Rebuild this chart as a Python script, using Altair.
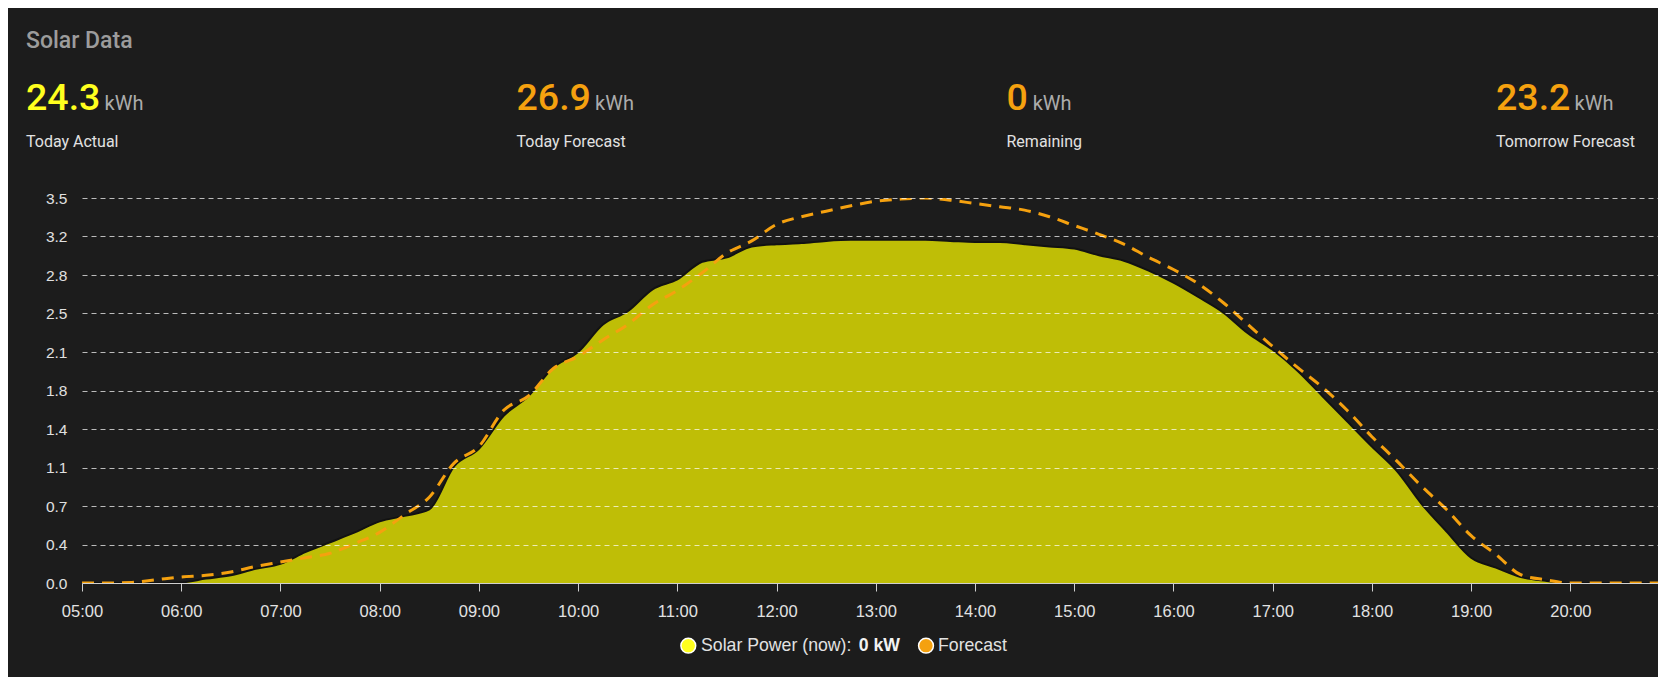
import altair as alt
import pandas as pd

# ---------------- data ----------------
TIMES = [
    "05:00", "05:15", "05:30", "05:45", "06:00", "06:15", "06:30", "06:45",
    "07:00", "07:15", "07:30", "07:45", "08:00", "08:15", "08:30", "08:45",
    "09:00", "09:15", "09:30", "09:45", "10:00", "10:15", "10:30", "10:45",
    "11:00", "11:15", "11:30", "11:45", "12:00", "12:15", "12:30", "12:45",
    "13:00", "13:15", "13:30", "13:45", "14:00", "14:15", "14:30", "14:45",
    "15:00", "15:15", "15:30", "15:45", "16:00", "16:15", "16:30", "16:45",
    "17:00", "17:15", "17:30", "17:45", "18:00", "18:15", "18:30", "18:45",
    "19:00", "19:15", "19:30", "19:45", "20:00", "20:15", "20:30", "20:45",
    "21:00",
]
ACTUAL_KW = [
    0, 0, 0, 0, 0.005, 0.04, 0.07, 0.13,
    0.175, 0.28, 0.37, 0.46, 0.56, 0.61, 0.67, 1.06,
    1.22, 1.52, 1.70, 1.96, 2.10, 2.35, 2.47, 2.67,
    2.76, 2.92, 2.96, 3.06, 3.08, 3.09, 3.11, 3.12,
    3.12, 3.12, 3.12, 3.11, 3.10, 3.10, 3.08, 3.06,
    3.04, 2.98, 2.93, 2.84, 2.73, 2.60, 2.46, 2.27,
    2.12, 1.93, 1.70, 1.47, 1.24, 1.02, 0.72, 0.47,
    0.23, 0.14, 0.055, 0.02, 0, 0, 0, 0,
    0,
]
FORECAST_KW = [
    0, 0, 0.005, 0.03, 0.055, 0.07, 0.10, 0.15,
    0.19, 0.23, 0.27, 0.36, 0.46, 0.62, 0.78, 1.09,
    1.24, 1.57, 1.70, 1.95, 2.06, 2.21, 2.35, 2.53,
    2.66, 2.82, 3.00, 3.11, 3.26, 3.33, 3.38, 3.43,
    3.47, 3.49, 3.50, 3.48, 3.45, 3.42, 3.39, 3.33,
    3.25, 3.17, 3.08, 2.96, 2.85, 2.72, 2.55, 2.35,
    2.15, 1.96, 1.78, 1.57, 1.33, 1.11, 0.88, 0.67,
    0.43, 0.26, 0.075, 0.03, 0, 0, 0, 0,
    0,
]
Y_TICKS = [0, 0.35, 0.7, 1.05, 1.4, 1.75, 2.1, 2.45, 2.8, 3.15, 3.5]
Y_LABELS = ["0.0", "0.4", "0.7", "1.1", "1.4", "1.8", "2.1", "2.5", "2.8", "3.2", "3.5"]
HOUR_TICKS = ["05:00", "06:00", "07:00", "08:00", "09:00", "10:00", "11:00", "12:00",
              "13:00", "14:00", "15:00", "16:00", "17:00", "18:00", "19:00", "20:00"]
X_START = "05:00"
X_END = "20:53"

CARD_TITLE = "Solar Data"
STAT_VALUES = ["24.3", "26.9", "0", "23.2"]
STAT_UNITS = ["kWh", "kWh", "kWh", "kWh"]
STAT_LABELS = ["Today Actual", "Today Forecast", "Remaining", "Tomorrow Forecast"]
LEGEND_NAMES = ["Solar Power (now):", "Forecast"]
LEGEND_NOW = "0 kW"

# ---------------- style ----------------
BG = "#1c1c1c"
YELLOW = "#ffff1e"
ORANGE = "#f5a10f"
AREA = "#bfbe06"
AXIS_FONT = "Liberation Sans"
HEAD_FONT = "Roboto"

PAD_L, PAD_T, PAD_B = 74, 190, 94
W, H = 1576, 385
STAT_X = [-56, 434.5, 924.5, 1414]     # relative to plot origin


def dt(hhmm):
    h, m = hhmm.split(":")
    return alt.DateTime(year=2024, month=6, date=1, hours=int(h), minutes=int(m))


DAY = "2024-06-01T"
df = pd.DataFrame({
    "time": [DAY + t for t in TIMES],
    "actual": ACTUAL_KW,
    "forecast": FORECAST_KW,
})

label_expr = "[" + ",".join(f"'{s}'" for s in Y_LABELS) + "][round(datum.value / 0.35)]"

x_axis = alt.Axis(
    values=[dt(t) for t in HOUR_TICKS], format="%H:%M", title=None, grid=False,
    domain=True, domainColor="#cfcfcf", domainWidth=1, ticks=True, tickColor="#cfcfcf",
    tickSize=8, labelPadding=12, labelFontSize=16.5, labelColor="#e2e2e2",
    labelFont=AXIS_FONT, zindex=1, labelFlush=False,
)
y_axis = alt.Axis(
    values=Y_TICKS, labelExpr=label_expr, title=None, grid=True, gridColor="#ffffff",
    gridOpacity=0.7, gridDash=[5, 4], gridWidth=1, domain=False, ticks=False,
    labelPadding=15, labelFontSize=15.5, labelColor="#e0e0e0", labelFont=AXIS_FONT,
    zindex=1,
)
x_enc = alt.X("time:T", scale=alt.Scale(domain=[dt(X_START), dt(X_END)]), axis=x_axis)
y_scale = alt.Scale(domain=[0, 3.5], nice=False, zero=True)

base = alt.Chart(df)
area = base.mark_area(color=AREA, interpolate="monotone", clip=True).encode(
    x=x_enc, y=alt.Y("actual:Q", scale=y_scale, axis=y_axis))
edge = base.mark_line(color="#121212", strokeWidth=2, interpolate="monotone", clip=True).encode(
    x=x_enc, y=alt.Y("actual:Q", scale=y_scale, axis=y_axis))
fc = base.mark_line(color=ORANGE, strokeWidth=3, strokeDash=[12, 8],
                    interpolate="monotone", clip=True).encode(
    x=x_enc, y=alt.Y("forecast:Q", scale=y_scale, axis=y_axis))

layers = [area, edge, fc]


def text_layer(txt, x, y, size, color, weight="normal", font=HEAD_FONT, baseline="alphabetic"):
    return alt.Chart(pd.DataFrame({"t": [txt]})).mark_text(
        align="left", baseline=baseline, fontSize=size, color=color,
        fontWeight=weight, font=font,
    ).encode(text="t:N", x=alt.value(x), y=alt.value(y))


layers.append(text_layer(CARD_TITLE, -56, -150, 23, "#9c9c9c", weight=500))

for i, (v, u, lab) in enumerate(zip(STAT_VALUES, STAT_UNITS, STAT_LABELS)):
    x0 = STAT_X[i]
    col = YELLOW if i == 0 else ORANGE
    num_w = sum(10 if c == "." else 21.2 for c in v)
    layers.append(text_layer(v, x0, -88, 37.5, col, weight=500))
    layers.append(text_layer(u, x0 + num_w + 5, -88, 20, "#ababab"))
    layers.append(text_layer(lab, x0, -51.5, 16, "#e2e2e2"))

# legend
LEG_Y = 447.7
LEG_FS = 17.7
leg_colors = [YELLOW, ORANGE]
leg_dot_x = [606.3, 844]
leg_txt_x = [619, 856]
for name, c, dx, tx in zip(LEGEND_NAMES, leg_colors, leg_dot_x, leg_txt_x):
    layers.append(
        alt.Chart(pd.DataFrame({"n": [name]})).mark_point(
            shape="circle", filled=True, size=220, fill=c, stroke="#ffffff",
            strokeWidth=1.5, opacity=1,
        ).encode(x=alt.value(dx), y=alt.value(LEG_Y))
    )
    layers.append(text_layer(name, tx, LEG_Y, LEG_FS, "#e2e2e2", font=AXIS_FONT, baseline="middle"))
layers.append(text_layer(LEGEND_NOW, 776.7, LEG_Y, LEG_FS, "#f2f2f2", weight="bold",
                         font=AXIS_FONT, baseline="middle"))

chart = alt.layer(*layers).properties(
    width=W, height=H,
    autosize=alt.AutoSizeParams(type="none"),
    padding={"left": PAD_L, "top": PAD_T, "right": 0, "bottom": PAD_B},
    background=BG,
).configure_view(stroke=None)

chart.save("out.html", embed_options={"renderer": "svg", "actions": False})
